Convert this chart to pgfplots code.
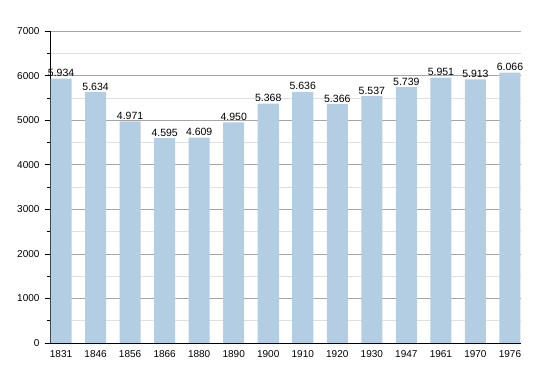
\documentclass[border=0pt]{standalone}
\usepackage{pgfplots}
\pgfplotsset{compat=1.18}
\usepackage{fontspec}
\setmainfont{Liberation Sans}
\definecolor{barblue}{RGB}{179,205,227}
\begin{document}
\fontsize{10bp}{12bp}\selectfont
\begin{tikzpicture}
\begin{axis}[
  scale only axis,
  width=471bp, height=312bp,
  xmin=-0.32, xmax=13.32,
  ymin=0, ymax=7000,
  axis x line=bottom, axis y line=left,
  axis line style={-, black, line width=0.8bp},
  xtick={0,...,13},
  xticklabels={1831,1846,1856,1866,1880,1890,1900,1910,1920,1930,1947,1961,1970,1976},
  x tick style={draw=none},
  ytick={0,1000,...,7000},
  minor ytick={500,1500,...,6500},
  y tick style={black, line width=0.6bp},
  major tick length=5bp,
  minor tick length=2.5bp,
  tick align=outside,
  ymajorgrids, yminorgrids,
  major grid style={color=black!35, line width=0.6bp},
  minor grid style={color=black!12, line width=0.6bp},
  yticklabel style={/pgf/number format/1000 sep={}, xshift=-2bp},
  xticklabel style={yshift=1bp},
  /pgf/number format/assume math mode=true,
  tick label style={font=\fontsize{10bp}{12bp}\selectfont},
]
\addplot[ybar, bar width=0.61, fill=barblue, draw=none,
  nodes near coords,
  nodes near coords style={font=\fontsize{10.5bp}{12bp}\selectfont, /pgf/number format/1000 sep={.}, /pgf/number format/assume math mode=true, inner sep=1.5bp},
] coordinates {
(0,5934) (1,5634) (2,4971) (3,4595) (4,4609) (5,4950) (6,5368)
(7,5636) (8,5366) (9,5537) (10,5739) (11,5951) (12,5913) (13,6066)
};
\end{axis}
\path ([shift={(-50bp,-30bp)}]current axis.south west) rectangle ([shift={(29bp,31bp)}]current axis.north east);
\end{tikzpicture}
\end{document}
